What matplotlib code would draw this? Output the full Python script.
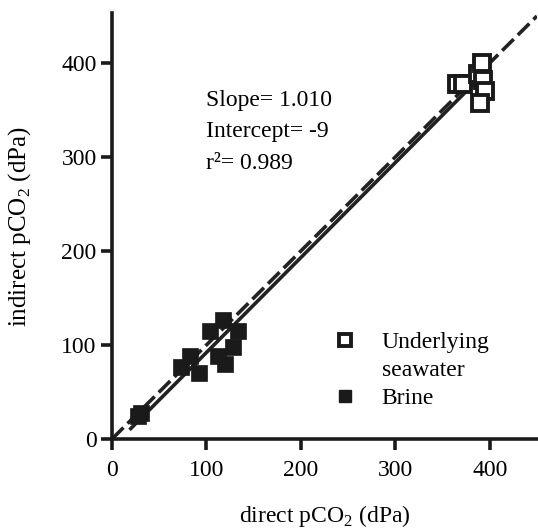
import matplotlib
matplotlib.use("Agg")
import matplotlib.pyplot as plt
from matplotlib.lines import Line2D
import numpy as np

plt.rcParams['font.family'] = ['Liberation Serif', 'DejaVu Serif']
plt.rcParams['mathtext.fontset'] = 'custom'
plt.rcParams['mathtext.rm'] = 'Liberation Serif'

# Data
seawater_x = [365, 372, 388, 392, 393, 395, 390]
seawater_y = [378, 378, 388, 400, 382, 370, 358]
brine_x = [28, 31, 73, 83, 92, 104, 118, 133, 120, 128, 112]
brine_y = [25, 28, 77, 88, 70, 115, 127, 115, 80, 98, 88]
fit_slope = 1.010
fit_intercept = -9
fit_range = [20, 395]
one_to_one = [0, 450]
x_ticks = [0, 100, 200, 300, 400]
y_ticks = [0, 100, 200, 300, 400]

FS = 17
fig = plt.figure(figsize=(5.38, 5.29), dpi=100)
ax = fig.add_axes([0.208, 0.170, 0.79, 0.805])

# 1:1 dashed line
ax.plot(one_to_one, one_to_one, color='#222222', lw=2.6, ls=(0, (4.5, 1.6)), zorder=2)
# fitted line
fx = np.array(fit_range)
ax.plot(fx, fit_slope * fx + fit_intercept, color='#222222', lw=2.6, zorder=2)

ax.plot(seawater_x, seawater_y, ls='none', marker='s', ms=12, mfc='white',
        mec='#1a1a1a', mew=2.8, zorder=3)
ax.plot(brine_x, brine_y, ls='none', marker='s', ms=12, mfc='#1a1a1a',
        mec='#1a1a1a', mew=0.5, zorder=3)

ax.set_xlim(0, 450)
ax.set_ylim(0, 453)
ax.set_xticks(x_ticks)
ax.set_yticks(y_ticks)
for s in ['top', 'right']:
    ax.spines[s].set_visible(False)
for s in ['left', 'bottom']:
    ax.spines[s].set_linewidth(2.6)
    ax.spines[s].set_color('#1a1a1a')
ax.tick_params(axis='both', direction='out', length=8, width=2.6, color='#1a1a1a',
               labelsize=FS)
ax.tick_params(axis='x', pad=7)
ax.tick_params(axis='y', pad=3)

ax.set_xlabel('direct pCO$_2$ (dPa)', fontsize=FS, labelpad=16)
ax.set_ylabel('indirect pCO$_2$ (dPa)', fontsize=18, labelpad=20)

ax.text(100, 360, 'Slope= 1.010', fontsize=FS, va='center', ha='left')
ax.text(100, 327, 'Intercept= -9', fontsize=FS, va='center', ha='left')
ax.text(100, 293, 'r²= 0.989', fontsize=FS, va='center', ha='left')

h1 = Line2D([], [], ls='none', marker='s', ms=9, mfc='white', mec='#1a1a1a', mew=2.8)
h2 = Line2D([], [], ls='none', marker='none')
h3 = Line2D([], [], ls='none', marker='s', ms=9, mfc='#1a1a1a', mec='#1a1a1a')
ax.legend([h1, h2, h3], ['Underlying', 'seawater', 'Brine'], loc='lower left',
          bbox_to_anchor=(0.507, 0.07), frameon=False, fontsize=FS,
          handletextpad=0.8, labelspacing=0.28, handlelength=1.5,
          borderpad=0, borderaxespad=0)

fig.savefig('out.png', dpi=100)
